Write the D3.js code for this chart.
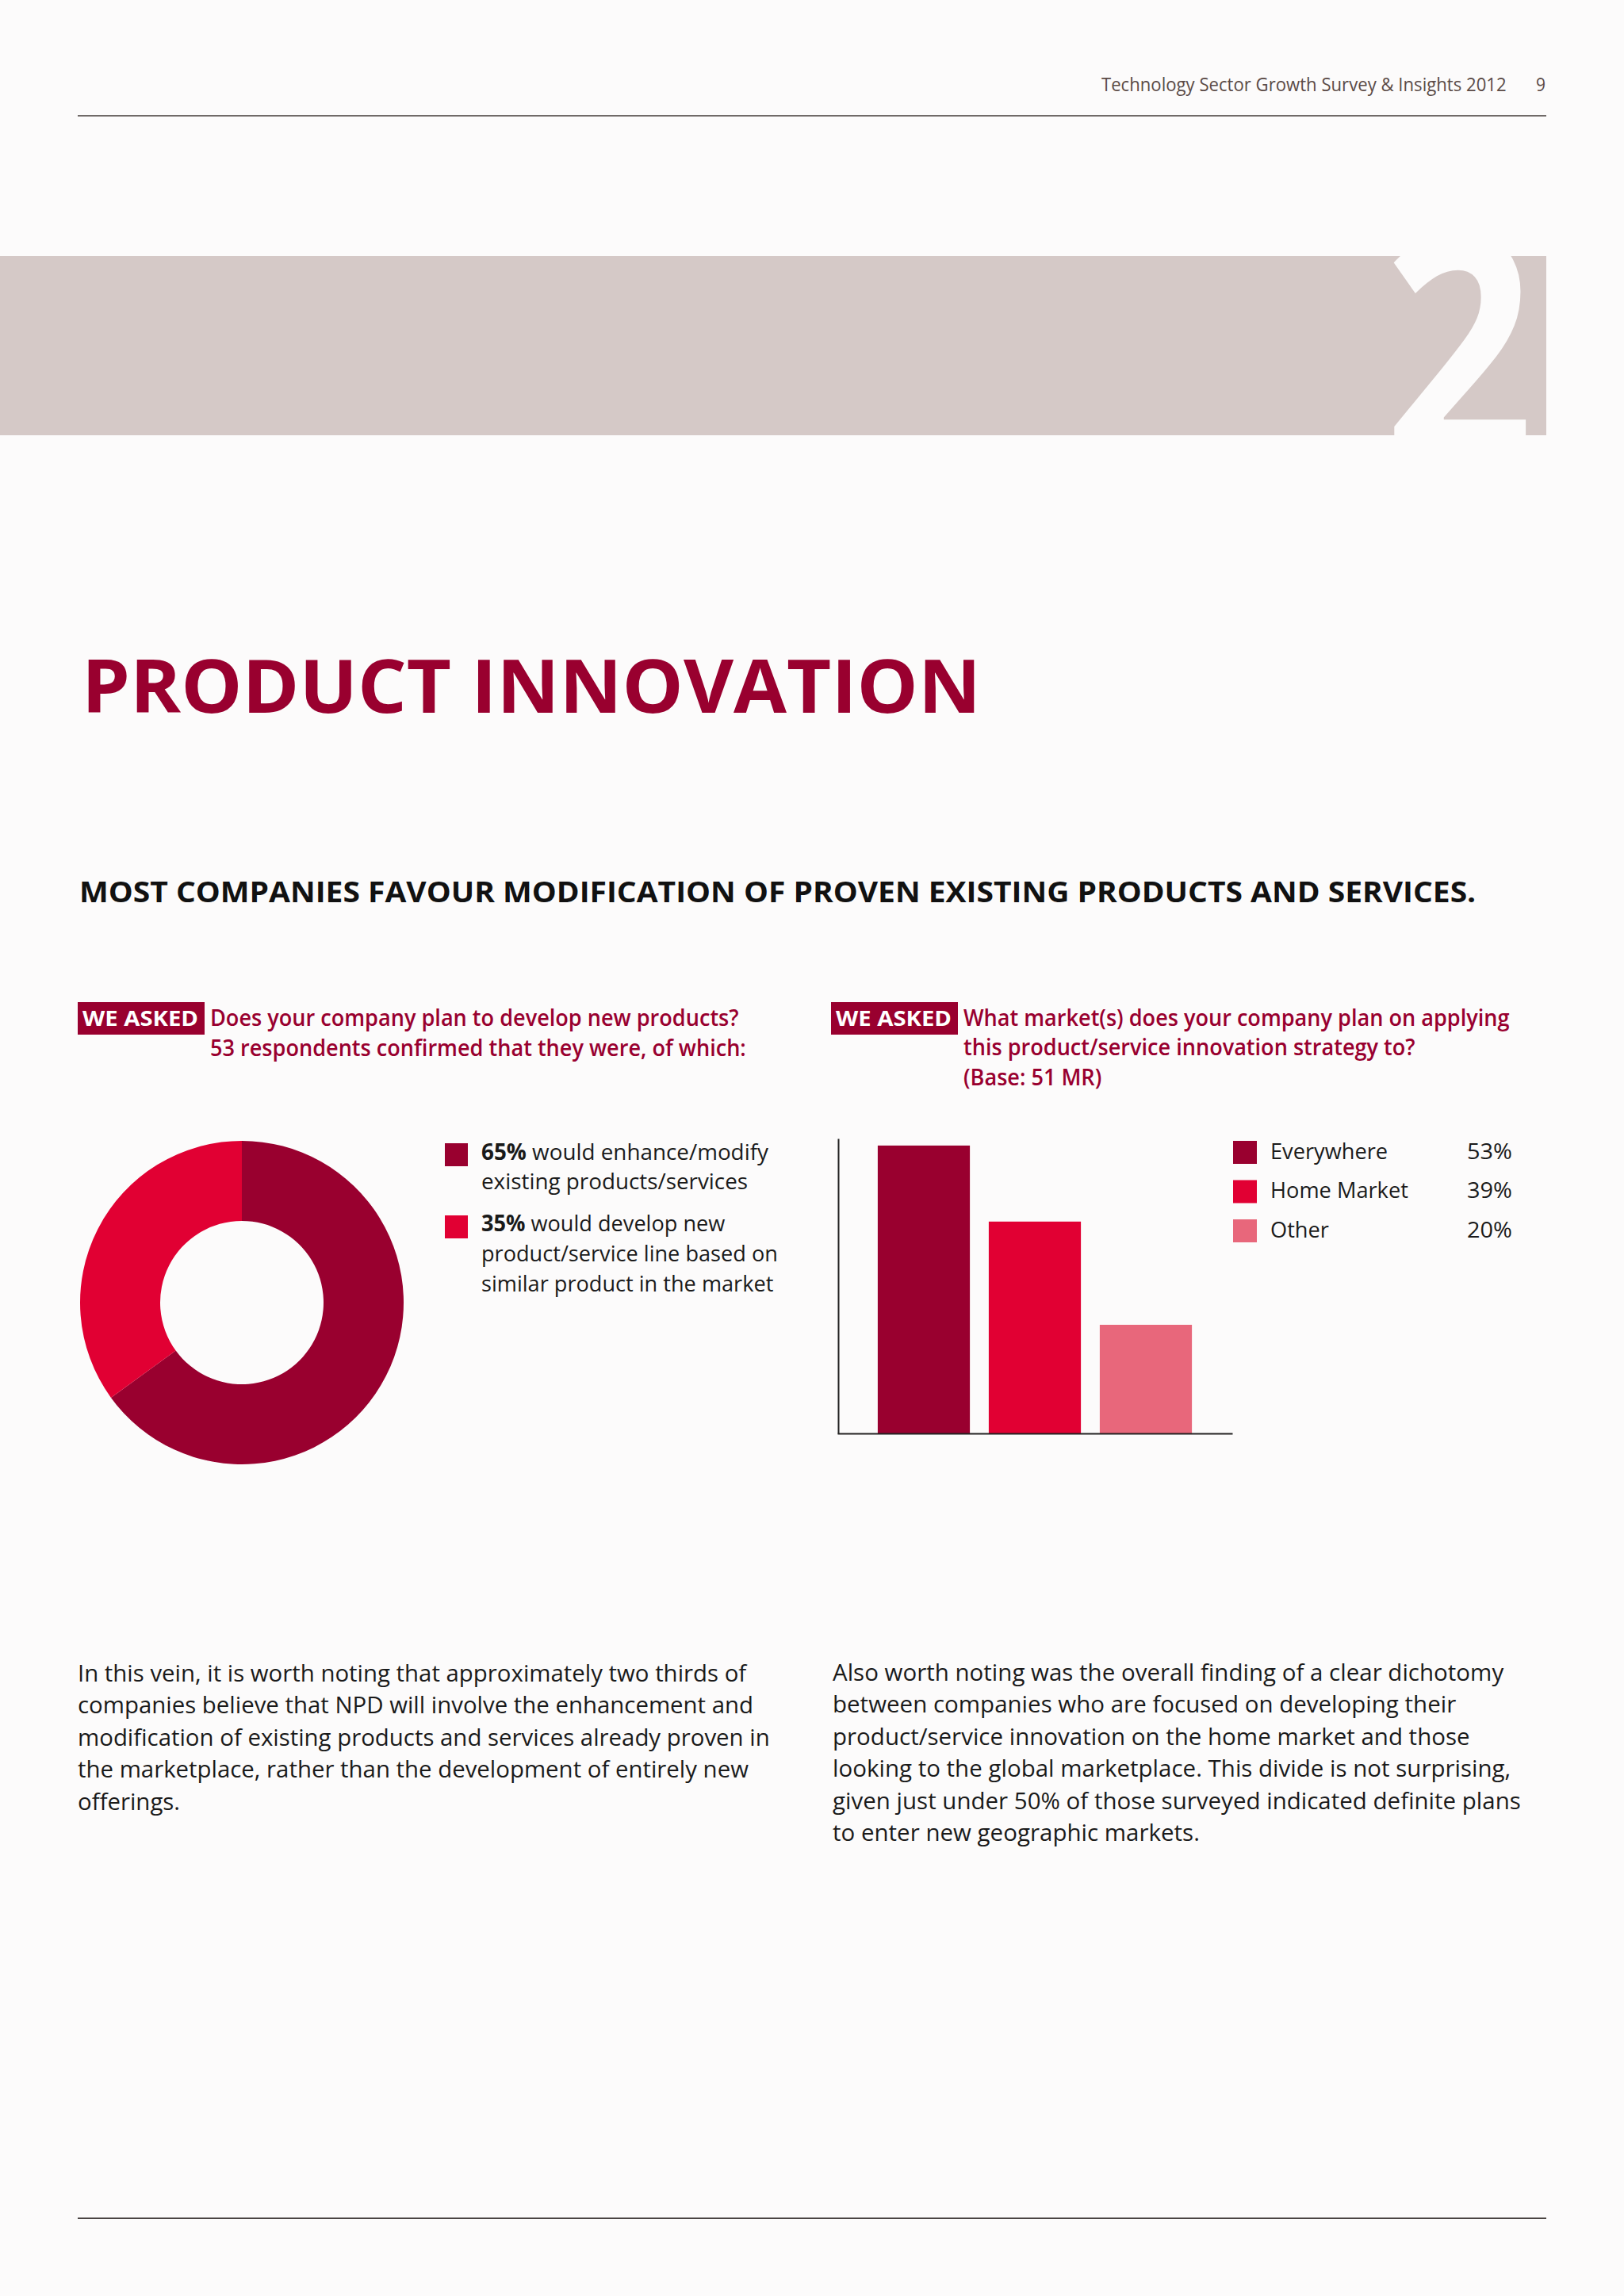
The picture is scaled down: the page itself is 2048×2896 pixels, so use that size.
<!DOCTYPE html>
<html>
<head>
<meta charset="utf-8">
<script src="https://cdn.jsdelivr.net/npm/d3@7"></script>
<style>
  html, body { margin: 0; padding: 0; background: #fcfbfb; }
  svg { display: block; font-family: "Open Sans", "Noto Sans", sans-serif; }
</style>
</head>
<body>
<div id="page"></div>
<script>
let width = 2048;
let height = 2896;

// Donut: plans to develop new products (53 respondents)
let donutValues = [65, 35];
let donutLegend = [
    ["would enhance/modify", "existing products/services"],
    ["would develop new", "product/service line based on", "similar product in the market"]
];

// Bars: target markets (Base: 51 MR)
let barCategories = ["Everywhere", "Home Market", "Other"];
let barValues = [53, 39, 20];

let crimson = "#99002f";
let colors = ["#99002f", "#e10033", "#e8677b"];

let leftParagraph = [
    "In this vein, it is worth noting that approximately two thirds of",
    "companies believe that NPD will involve the enhancement and",
    "modification of existing products and services already proven in",
    "the marketplace, rather than the development of entirely new",
    "offerings."
];
let rightParagraph = [
    "Also worth noting was the overall finding of a clear dichotomy",
    "between companies who are focused on developing their",
    "product/service innovation on the home market and those",
    "looking to the global marketplace. This divide is not surprising,",
    "given just under 50% of those surveyed indicated definite plans",
    "to enter new geographic markets."
];

let svg = d3.select("#page")
    .append("svg")
    .attr("width", width)
    .attr("height", height);

svg.append("rect")
    .attr("width", width)
    .attr("height", height)
    .attr("fill", "#fcfbfb");

// Writes lines of text, then squeezes them horizontally to the wanted width
// (the original uses a condensed face)
function fitText(lines, o) {
    let outer = svg.append("g");
    let inner = outer.append("g");
    lines.forEach(function(segs, i) {
        let t = inner.append("text")
            .attr("x", 0)
            .attr("y", i * (o.lh || 0))
            .attr("font-size", o.size)
            .attr("font-weight", o.weight || 400)
            .attr("fill", o.color || "#1a1a1a");
        if (typeof segs === "string") segs = [[segs, false]];
        segs.forEach(function(s) {
            t.append("tspan")
                .attr("font-weight", s[1] ? 700 : null)
                .text(s[0]);
        });
    });
    let bb = inner.node().getBBox();
    let k = o.width / bb.width;
    outer.attr("transform", "translate(" + (o.x - bb.x * k) + "," + o.y + ") scale(" + k + ",1)");
    return outer;
}

// Header
fitText(["Technology Sector Growth Survey & Insights 2012"], {x: 1389, y: 115, size: 23, width: 511, color: "#5b4b47"});
fitText(["9"], {x: 1937, y: 115, size: 23, width: 12, color: "#5b4b47"});

svg.append("line")
    .attr("x1", 98).attr("x2", 1950)
    .attr("y1", 146).attr("y2", 146)
    .attr("stroke", "#706a68")
    .attr("stroke-width", 2);

// Chapter band with the big "2"
svg.append("clipPath")
    .attr("id", "bandClip")
    .append("rect")
    .attr("x", 0).attr("y", 323)
    .attr("width", 1950).attr("height", 226);

svg.append("rect")
    .attr("x", 0).attr("y", 323)
    .attr("width", 1950).attr("height", 226)
    .attr("fill", "#d5c9c7");

let bandG = svg.append("g").attr("clip-path", "url(#bandClip)");
let two = bandG.append("text")
    .attr("font-size", 400)
    .attr("font-weight", 700)
    .attr("fill", "#fcfbfb")
    .attr("y", 0)
    .text("2");
let tb = two.node().getBBox();
let tk = 190 / tb.width;
two.attr("transform", "translate(" + (1745 - tb.x * tk) + ",580) scale(" + tk + ",1)");

// Titles
fitText(["PRODUCT INNOVATION"], {x: 103, y: 899, size: 93, weight: 700, width: 1134, color: crimson});
fitText(["MOST COMPANIES FAVOUR MODIFICATION OF PROVEN EXISTING PRODUCTS AND SERVICES."],
    {x: 100, y: 1138, size: 36, weight: 700, width: 1762, color: "#111"});

// "WE ASKED" tags
[98, 1048].forEach(function(x) {
    svg.append("rect")
        .attr("x", x).attr("y", 1264)
        .attr("width", 160).attr("height", 41)
        .attr("fill", crimson);
    fitText(["WE ASKED"], {x: x + 6, y: 1294, size: 27, weight: 700, width: 146, color: "#fff"});
});

fitText(["Does your company plan to develop new products?",
         "53 respondents confirmed that they were, of which:"],
    {x: 265, y: 1294, lh: 38, size: 29, weight: 600, width: 676, color: crimson});

fitText(["What market(s) does your company plan on applying",
         "this product/service innovation strategy to?",
         "(Base: 51 MR)"],
    {x: 1215, y: 1294, lh: 37.5, size: 29, weight: 600, width: 689, color: crimson});

// Donut chart
let pie = d3.pie().sort(null);
let arc = d3.arc().innerRadius(103).outerRadius(204);

svg.append("g")
    .attr("transform", "translate(305,1643)")
    .selectAll("path")
    .data(pie(donutValues))
    .enter()
    .append("path")
    .attr("d", arc)
    .attr("fill", function(d, i) { return colors[i]; });

// Donut legend
let donutLegendY = [1442, 1533];
donutValues.forEach(function(v, i) {
    svg.append("rect")
        .attr("x", 561).attr("y", donutLegendY[i])
        .attr("width", 29).attr("height", 29)
        .attr("fill", colors[i]);
});
let legendLines = [];
donutLegend.forEach(function(lines, i) {
    lines.forEach(function(l, j) {
        if (j === 0) legendLines.push([[donutValues[i] + "%", true], [" " + l, false]]);
        else legendLines.push([[l, false]]);
    });
});
// two blocks so the gap between the entries is kept
fitText(legendLines.slice(0, 2), {x: 607, y: 1463, lh: 37.5, size: 28, width: 363, color: "#1a1a1a"});
fitText(legendLines.slice(2), {x: 607, y: 1553, lh: 38, size: 28, width: 374, color: "#1a1a1a"});

// Bar chart
let x = d3.scaleBand()
    .domain(barCategories)
    .range([1095, 1515])
    .paddingInner(0.17)
    .paddingOuter(0.085);

let y = d3.scaleLinear()
    .domain([0, 54.3])
    .range([1808, 1436]);

svg.selectAll(".bar")
    .data(barValues)
    .enter()
    .append("rect")
    .attr("class", "bar")
    .attr("x", function(d, i) { return x(barCategories[i]); })
    .attr("width", x.bandwidth())
    .attr("y", function(d) { return y(d); })
    .attr("height", function(d) { return y(0) - y(d); })
    .attr("fill", function(d, i) { return colors[i]; });

let xLine = d3.scaleLinear().range([1056, 1554]);

svg.append("g")
    .attr("transform", "translate(0," + y(0) + ")")
    .call(d3.axisBottom(xLine).tickValues([]).tickSizeOuter(0))
    .select(".domain")
    .attr("stroke", "#222")
    .attr("stroke-width", 2);

svg.append("g")
    .attr("transform", "translate(1057,0)")
    .call(d3.axisLeft(y).tickValues([]).tickSizeOuter(0))
    .select(".domain")
    .attr("stroke", "#222")
    .attr("stroke-width", 2);

// Bar legend
let barLegendY = d3.scalePoint().domain(barCategories).range([1439, 1538]);
barCategories.forEach(function(c, i) {
    svg.append("rect")
        .attr("x", 1555).attr("y", barLegendY(c))
        .attr("width", 30).attr("height", 29)
        .attr("fill", colors[i]);
});
fitText(barCategories, {x: 1602, y: 1462, lh: 49.5, size: 28, width: 174, color: "#1a1a1a"});
fitText(barValues.map(function(v) { return v + "%"; }), {x: 1850, y: 1462, lh: 49.5, size: 28, width: 57, color: "#1a1a1a"});

// Body text
fitText(leftParagraph, {x: 98, y: 2121, lh: 40.5, size: 30, width: 873, color: "#1a1a1a"});
fitText(rightParagraph, {x: 1050, y: 2120, lh: 40.5, size: 30, width: 868, color: "#1a1a1a"});

// Footer rule
svg.append("line")
    .attr("x1", 98).attr("x2", 1950)
    .attr("y1", 2798).attr("y2", 2798)
    .attr("stroke", "#4a4442")
    .attr("stroke-width", 2);
</script>
</body>
</html>
